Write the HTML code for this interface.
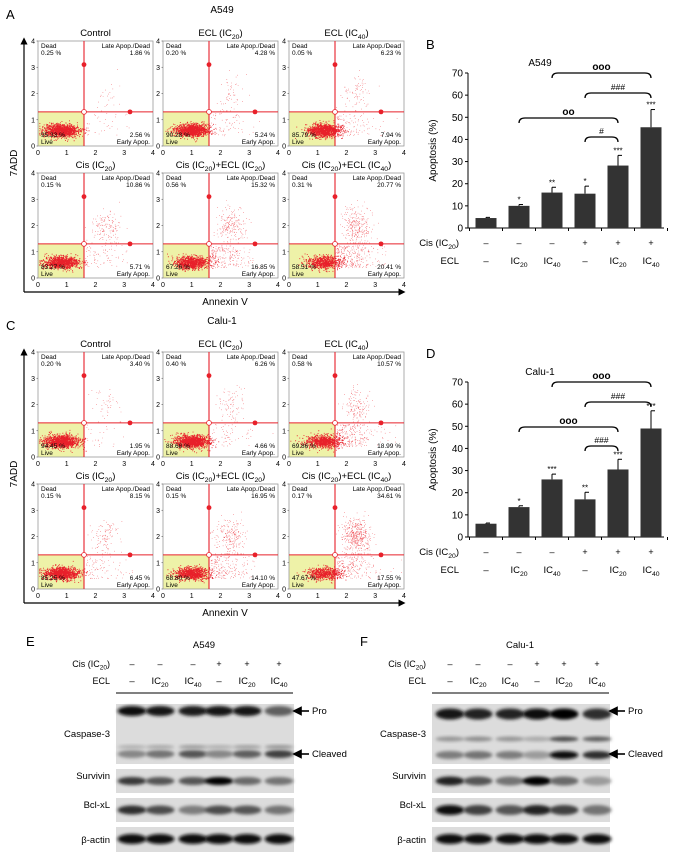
<!DOCTYPE html>
<html><head><meta charset="utf-8">
<style>
html,body{margin:0;padding:0;background:#fff;}
svg{display:block;font-family:"Liberation Sans",Arial,sans-serif;}
</style></head>
<body>
<svg id="fig" width="677" height="855" viewBox="0 0 677 855" xmlns="http://www.w3.org/2000/svg">
<defs>
<filter id="blur1" x="-20%" y="-50%" width="140%" height="200%"><feGaussianBlur stdDeviation="1.6"/></filter>
<marker id="arr" markerWidth="6" markerHeight="6" refX="3" refY="3" orient="auto"><path d="M0,0 L6,3 L0,6 z" fill="#000"/></marker>
</defs>
<g id="root"></g>
</svg>
<script>
// ---------- DATA ----------
const flowTitlesA = ["Control","ECL (IC20)","ECL (IC40)","Cis (IC20)","Cis (IC20)+ECL (IC20)","Cis (IC20)+ECL (IC40)"];
const flowDeadA  = [0.25,0.20,0.05,0.15,0.56,0.31];
const flowLateA  = [1.86,4.28,6.23,10.86,15.32,20.77];
const flowLiveA  = [95.33,90.28,85.79,83.27,67.26,58.51];
const flowEarlyA = [2.56,5.24,7.94,5.71,16.85,20.41];
const flowDeadC  = [0.20,0.40,0.58,0.15,0.15,0.17];
const flowLateC  = [3.40,6.26,10.57,8.15,16.95,34.61];
const flowLiveC  = [94.45,88.68,69.86,85.25,68.80,47.67];
const flowEarlyC = [1.95,4.66,18.99,6.45,14.10,17.55];
const gateX = 1.6, gateY = 1.3;

const barCats = ["1","2","3","4","5","6"];
const cisLabels = ["–","–","–","+","+","+"];
const eclLabels = ["–","IC20","IC40","–","IC20","IC40"];
const barB = [4.5,10,16,15.5,28.2,45.5];
const errB = [0.3,0.6,2.4,3.4,4.6,8];
const starsB = ["","*","**","*","***","***"];
const barD = [6,13.5,26,17,30.5,49];
const errD = [0.3,0.6,2.4,3.2,4.6,8];
const starsD = ["","*","***","**","***","***"];
const yTicks = [0,10,20,30,40,50,60,70];

// blot intensities per lane (0..1)
const casProE = [0.95,0.92,0.88,0.9,0.9,0.55];
const casClvE = [0.35,0.45,0.6,0.35,0.55,0.7];
const survE   = [0.75,0.6,0.6,1.0,0.5,0.45];
const bclE    = [0.8,0.65,0.4,0.65,0.6,0.45];
const actE    = [0.95,0.95,0.95,0.95,0.95,0.95];
const casProF = [0.9,0.85,0.85,0.95,1.0,0.8];
const casClvF = [0.4,0.45,0.4,0.25,0.95,0.8];
const survF   = [0.85,0.6,0.45,1.0,0.5,0.25];
const bclF    = [0.95,0.7,0.6,0.85,0.7,0.45];
const actF    = [0.95,0.95,0.95,0.95,0.95,0.95];

// ---------- helpers ----------
const NS="http://www.w3.org/2000/svg";
const root=document.getElementById('root');
function mk(tag,attrs,parent){const e=document.createElementNS(NS,tag);for(const k in attrs)e.setAttribute(k,attrs[k]);(parent||root).appendChild(e);return e;}
function txt(x,y,s,size,anchor,parent,weight){const t=mk('text',{x:x,y:y,'font-size':size,'text-anchor':anchor||'start','font-weight':weight||'normal'},parent);t.textContent=s;return t;}
function icText(x,y,s,size,anchor,parent){
  const t=mk('text',{x:x,y:y,'font-size':size,'text-anchor':anchor||'middle'},parent);
  const re=/IC(\d\d)/g;let last=0,m;
  while((m=re.exec(s))){
    if(m.index>last){const a=mk('tspan',{},t);a.textContent=s.slice(last,m.index);}
    const b=mk('tspan',{},t);b.textContent='IC';
    const c=mk('tspan',{'font-size':size*0.72,dy:size*0.3},t);c.textContent=m[1];
    const d=mk('tspan',{dy:-size*0.3},t);d.textContent='\u200B';
    last=m.index+m[0].length;
  }
  if(last<s.length){const a=mk('tspan',{},t);a.textContent=s.slice(last);}
  return t;
}
let seed=12345;function rnd(){seed=(seed*16807)%2147483647;return seed/2147483647;}
function gauss(){let u=rnd()||1e-6,v=rnd();return Math.sqrt(-2*Math.log(u))*Math.cos(2*Math.PI*v);}

// ---------- flow panel ----------
function flowPanel(oy,title,letter,dead,late,live,early){
  const g=mk('g',{});
  
  
  txt(6,oy+19,letter,13,'start',g);
  txt(222,oy+13,title,10,'middle',g);
  const cols=[38,163,289], rows=[oy+41,oy+173], W=115, H=105;
  for(let i=0;i<6;i++){
    const x0=cols[i%3], y0=rows[Math.floor(i/3)];
    const sx=v=>x0+v/4*W, sy=v=>y0+H-v/4*H;
    const p=mk('g',{},g);
    
    
    icText(x0+W/2,y0-5,flowTitlesA[i],9.5,'middle',p);
    mk('rect',{x:sx(0),y:sy(gateY),width:sx(gateX)-sx(0),height:sy(0)-sy(gateY),fill:'#eef2a8'},p);
    mk('rect',{x:x0,y:y0,width:W,height:H,fill:'none',stroke:'#999','stroke-width':0.8},p);
    const N=1300;let pts='',pts2='';
    const nLive=Math.round(N*live[i]/100),nEarly=Math.round(N*early[i]/100),nLate=Math.round(N*late[i]/100);
    const cl=0.8+0.2*(i%3);
    for(let k=0;k<nLive;k++){const a=cl+gauss()*0.3,b=0.6+gauss()*0.12;pts+=`M${sx(Math.max(0.05,a)).toFixed(1)},${sy(Math.max(0.1,b)).toFixed(1)}h0.9v0.9h-0.9z`;}
    for(let k=0;k<nEarly;k++){const a=1.65+Math.abs(gauss())*0.7,b=0.4+rnd()*0.85;pts2+=`M${sx(Math.min(3.9,a)).toFixed(1)},${sy(b).toFixed(1)}h0.6v0.6h-0.6z`;}
    for(let k=0;k<nLate;k++){const a=2.35+gauss()*0.25,b=2.0+gauss()*0.35;pts2+=`M${sx(Math.min(3.9,Math.max(1.65,a))).toFixed(1)},${sy(Math.min(3.8,Math.max(1.35,b))).toFixed(1)}h0.6v0.6h-0.6z`;}
    mk('path',{d:pts,fill:'#e8202a'},p);
    mk('path',{d:pts2,fill:'#ee4048'},p);
    mk('line',{x1:sx(gateX),y1:y0,x2:sx(gateX),y2:y0+H,stroke:'#e8202a','stroke-width':1.1},p);
    mk('line',{x1:x0,y1:sy(gateY),x2:x0+W,y2:sy(gateY),stroke:'#e8202a','stroke-width':1.1},p);
    mk('circle',{cx:sx(gateX),cy:sy(3.1),r:2.4,fill:'#e8202a'},p);
    mk('circle',{cx:sx(3.2),cy:sy(gateY),r:2.4,fill:'#e8202a'},p);
    mk('circle',{cx:sx(gateX),cy:sy(gateY),r:2.4,fill:'#fff',stroke:'#e8202a','stroke-width':0.8},p);
    const fs=6.5;
    txt(x0+3,y0+7,'Dead',fs,'start',p);txt(x0+3,y0+14,dead[i].toFixed(2)+' %',fs,'start',p);
    txt(x0+W-3,y0+7,'Late Apop./Dead',fs,'end',p);txt(x0+W-3,y0+14,late[i].toFixed(2)+' %',fs,'end',p);
    txt(x0+3,y0+H-9,live[i].toFixed(2)+' %',fs,'start',p);txt(x0+3,y0+H-2,'Live',fs,'start',p);
    txt(x0+W-3,y0+H-9,early[i].toFixed(2)+' %',fs,'end',p);txt(x0+W-3,y0+H-2,'Early Apop.',fs,'end',p);
    for(let t=0;t<=4;t++){
      txt(sx(t),y0+H+9,String(t),7,'middle',p);
      txt(x0-3,sy(t)+2.5,String(t),7,'end',p);
      mk('line',{x1:x0-1.5,y1:sy(t),x2:x0,y2:sy(t),stroke:'#555','stroke-width':0.6},p);
    }
  }
  mk('line',{x1:24,y1:oy+292,x2:24,y2:oy+41,stroke:'#000','stroke-width':1.2,'marker-end':'url(#arr)'},g);
  mk('line',{x1:24,y1:oy+292,x2:402,y2:oy+292,stroke:'#000','stroke-width':1.2,'marker-end':'url(#arr)'},g);
  const yl=txt(0,0,'7ADD',10,'middle',g);yl.setAttribute('transform',`translate(17,${oy+163}) rotate(-90)`);
  txt(225,oy+305,'Annexin V',10,'middle',g);
}

// ---------- bar chart ----------
function barPanel(oy,title,letter,vals,errs,stars,brk){
  const g=mk('g',{});
  
  
  txt(426,oy+49,letter,13,'start',g);
  txt(540,oy+66,title,10,'middle',g);
  const axX=468,y0=oy+228,yTop=oy+73;
  const sy=v=>y0-(v/70)*(y0-yTop);
  const cx=i=>486+i*33;
  mk('line',{x1:axX,y1:y0,x2:axX,y2:yTop,stroke:'#000','stroke-width':1},g);
  mk('line',{x1:axX,y1:y0,x2:664,y2:y0,stroke:'#000','stroke-width':1},g);
  yTicks.forEach(t=>{mk('line',{x1:axX-3,y1:sy(t),x2:axX,y2:sy(t),stroke:'#000','stroke-width':1},g);txt(axX-5,sy(t)+3.5,String(t),10,'end',g);});
  for(let i=0;i<=barCats.length;i++){const x=cx(i)-16.5;mk('line',{x1:x,y1:y0,x2:x,y2:y0+3,stroke:'#000','stroke-width':1},g);}
  const yl=txt(0,0,'Apoptosis (%)',10,'middle',g);yl.setAttribute('transform',`translate(436,${(y0+yTop)/2}) rotate(-90)`);
  vals.forEach((v,i)=>{
    const b=mk('rect',{x:cx(i)-10.5,y:sy(v),width:21,height:y0-sy(v),fill:'#333'},g);
    
    
    const et=sy(v+errs[i]);
    mk('line',{x1:cx(i),y1:sy(v),x2:cx(i),y2:et,stroke:'#000','stroke-width':1},g);
    mk('line',{x1:cx(i),y1:et,x2:cx(i)+4,y2:et,stroke:'#000','stroke-width':1},g);
    if(stars[i])txt(cx(i),et-2,stars[i],8,'middle',g);
    txt(cx(i),oy+246,cisLabels[i],9,'middle',g);
    icText(cx(i),oy+264,eclLabels[i],9.5,'middle',g);
  });
  icText(459,oy+246,'Cis (IC20)',9.5,'end',g);
  txt(459,oy+264,'ECL',9.5,'end',g);
  brk.forEach(b=>{
    const x1=cx(b[0]),x2=cx(b[1]),y=oy+b[2];
    mk('path',{d:`M${x1},${y+5} Q${x1},${y} ${x1+6},${y} L${x2-6},${y} Q${x2},${y} ${x2},${y+5}`,fill:'none',stroke:'#000','stroke-width':1.3},g);
    txt((x1+x2)/2,y-3,b[3],b[3][0]=='o'?10:8.5,'middle',g,b[3][0]=='o'?'bold':'normal');
  });
}

// ---------- western blot ----------
function blotPanel(letter,title,lx,bx,lanes,rows){
  const g=mk('g',{});
  
  
  txt(lx,646,letter,13,'start',g);
  txt(bx+88,648,title,9.5,'middle',g);
  icText(bx-6,667,'Cis (IC20)',9,'end',g);
  txt(bx-6,684,'ECL',9,'end',g);
  lanes.forEach((x,i)=>{txt(x,667,cisLabels[i],9,'middle',g);icText(x,684,eclLabels[i],9.5,'middle',g);});
  mk('line',{x1:bx,y1:693,x2:bx+177,y2:693,stroke:'#000','stroke-width':1},g);
  rows.forEach(r=>{
    const bg=mk('rect',{x:bx,y:r.y,width:178,height:r.h,fill:'#dcdcdc'},g);
    
    
    r.bands.forEach(bd=>{
      bd.vals.forEach((v,i)=>{
        const c=Math.round(205-200*v);
        mk('ellipse',{cx:lanes[i],cy:r.y+bd.dy,rx:14.5,ry:bd.ry,fill:`rgb(${c},${c},${c})`,filter:'url(#blur1)'},g);
      });
    });
    txt(bx-6,r.y+r.ly,r.name,9.5,'end',g);
  });
  mk('line',{x1:bx+193,y1:711,x2:bx+181,y2:711,stroke:'#000','stroke-width':1.6,'marker-end':'url(#arr)'},g);
  txt(bx+196,714,'Pro',9.5,'start',g);
  mk('line',{x1:bx+193,y1:754,x2:bx+181,y2:754,stroke:'#000','stroke-width':1.6,'marker-end':'url(#arr)'},g);
  txt(bx+196,757,'Cleaved',9.5,'start',g);
}

// ---------- build ----------
flowPanel(0,'A549','A',flowDeadA,flowLateA,flowLiveA,flowEarlyA);
flowPanel(311,'Calu-1','C',flowDeadC,flowLateC,flowLiveC,flowEarlyC);
barPanel(0,'A549','B',barB,errB,starsB,[[2,5,73,'ooo'],[3,5,93,'###'],[1,4,118,'oo'],[3,4,137,'#']]);
barPanel(309,'Calu-1','D',barD,errD,starsD,[[2,5,73,'ooo'],[3,5,93,'###'],[1,4,118,'ooo'],[3,4,137,'###']]);
blotPanel('E','A549',26,116,[132,160,193,219,247,279],[
  {name:'Caspase-3',y:704,h:60,ly:33,bands:[{dy:7,ry:5,vals:casProE},{dy:50,ry:4,vals:casClvE},{dy:43,ry:2,vals:casClvE.map(v=>v*0.4)}]},
  {name:'Survivin',y:769,h:24,ly:10,bands:[{dy:12,ry:4,vals:survE}]},
  {name:'Bcl-xL',y:798,h:24,ly:10,bands:[{dy:12,ry:4.5,vals:bclE}]},
  {name:'\u03B2-actin',y:827,h:25,ly:16,bands:[{dy:12,ry:5,vals:actE}]}
]);
blotPanel('F','Calu-1',360,432,[450,478,510,537,564,597],[
  {name:'Caspase-3',y:704,h:60,ly:33,bands:[{dy:10,ry:5.5,vals:casProF},{dy:51,ry:4,vals:casClvF},{dy:35,ry:2.5,vals:casClvF.map(v=>v*0.7)}]},
  {name:'Survivin',y:769,h:24,ly:10,bands:[{dy:12,ry:4.5,vals:survF}]},
  {name:'Bcl-xL',y:798,h:24,ly:10,bands:[{dy:12,ry:5,vals:bclF}]},
  {name:'\u03B2-actin',y:827,h:25,ly:16,bands:[{dy:12,ry:5,vals:actF}]}
]);
</script>
</body></html>
